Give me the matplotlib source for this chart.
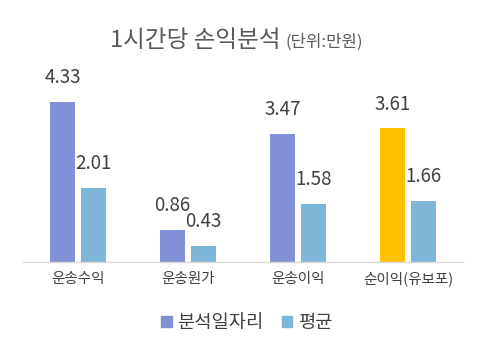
import matplotlib
matplotlib.use("Agg")
import matplotlib.pyplot as plt
import numpy as np
from matplotlib.patches import Patch

plt.rcParams['font.family'] = ['Noto Sans CJK KR', 'DejaVu Sans']

categories = ["운송수익", "운송원가", "운송이익", "순이익(유보포)"]
series_names = ["분석일자리", "평균"]
job_values = [4.33, 0.86, 3.47, 3.61]
avg_values = [2.01, 0.43, 1.58, 1.66]

purple = "#8291D6"
blue = "#7EB6DA"
orange = "#FFC000"
job_colors = [purple, purple, purple, orange]

fig = plt.figure(figsize=(4.87, 3.51), dpi=100)
ax = fig.add_axes([23 / 487, 89 / 351, 440 / 487, 185 / 351])

x = np.arange(len(categories))
w = 0.227
off = 0.14
bars1 = ax.bar(x - off, job_values, w, color=job_colors, label=series_names[0])
bars2 = ax.bar(x + off, avg_values, w, color=blue, label=series_names[1])

for bars, vals in ((bars1, job_values), (bars2, avg_values)):
    for b, v in zip(bars, vals):
        ax.annotate(f"{v:.2f}", (b.get_x() + b.get_width() / 2, v),
                    xytext=(0, 10), textcoords="offset points",
                    ha="center", va="bottom", fontsize=13.5, color="#404040")

ax.set_xlim(-0.5, 3.5)
ax.set_ylim(0, 5)
ax.set_yticks([])
ax.set_xticks(x)
ax.set_xticklabels(categories, fontsize=10.5, color="#404040")
ax.tick_params(axis="x", length=0, pad=7)
for s in ("top", "right", "left"):
    ax.spines[s].set_visible(False)
ax.spines["bottom"].set_color("#D9D9D9")
ax.spines["bottom"].set_linewidth(1)

fig.text(0.577, 0.886, "1시간당 손익분석", fontsize=17, color="#595959",
         ha="right", va="center")
fig.text(0.586, 0.880, "(단위:만원)", fontsize=12, color="#595959",
         ha="left", va="center")

handles = [Patch(color=purple), Patch(color=blue)]
fig.legend(handles, series_names, loc="center", bbox_to_anchor=(0.507, 0.08),
           ncol=2, frameon=False, fontsize=13.5, handlelength=0.55, handleheight=0.55,
           handletextpad=0.3, columnspacing=1.0, labelcolor="#404040")

fig.savefig("out.png", dpi=100)
